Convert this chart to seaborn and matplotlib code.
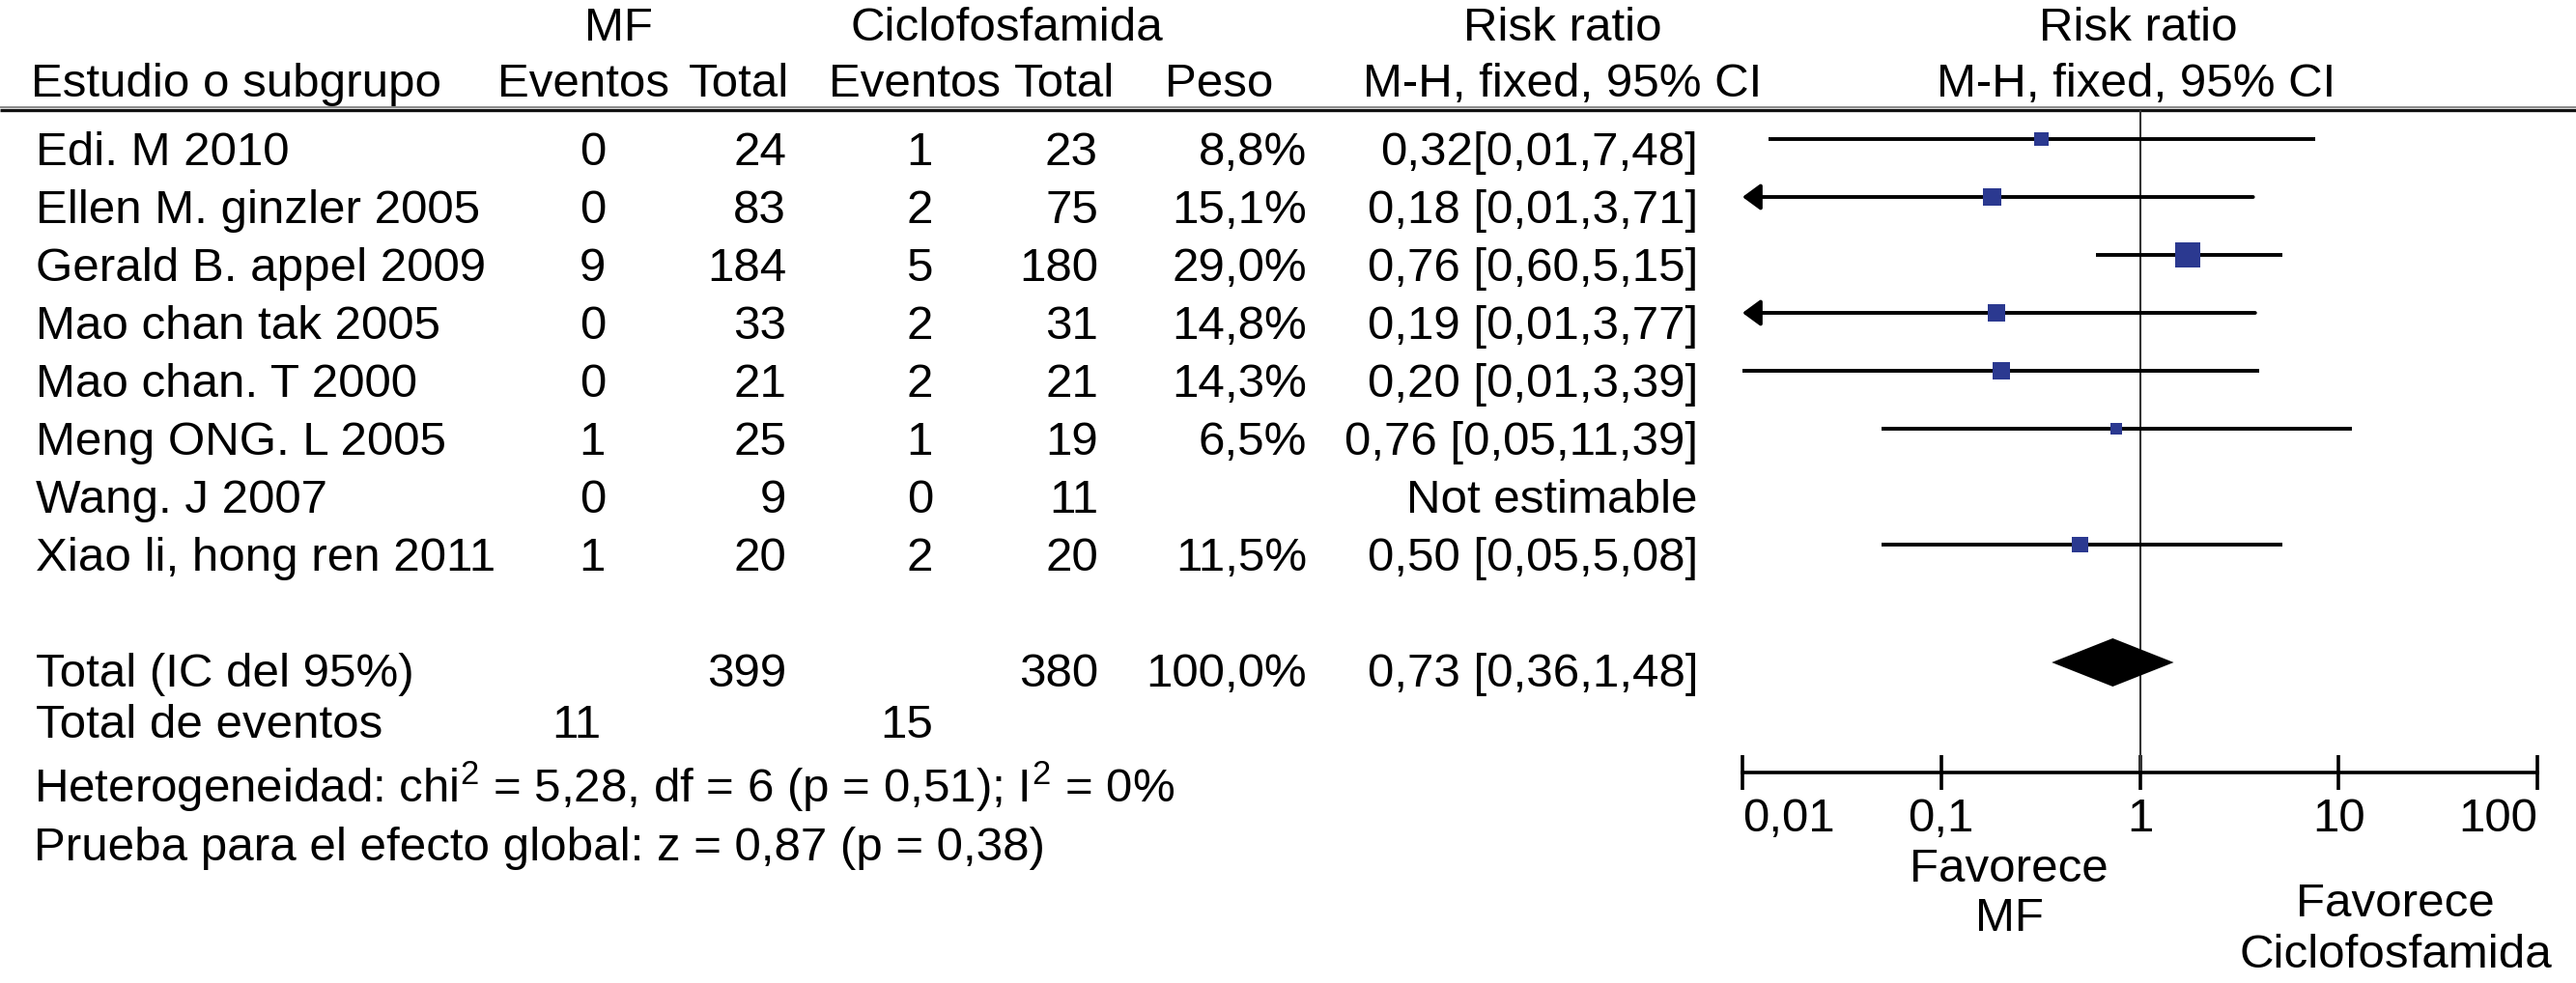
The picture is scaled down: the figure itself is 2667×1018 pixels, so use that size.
import numpy as np
import pandas as pd
import matplotlib
matplotlib.use("Agg")
import matplotlib.pyplot as plt
import seaborn as sns

# Table data (as printed)
studies = ["Edi. M 2010", "Ellen M. ginzler 2005", "Gerald B. appel 2009",
           "Mao chan tak 2005", "Mao chan. T 2000", "Meng ONG. L 2005",
           "Wang. J 2007", "Xiao li, hong ren 2011"]
mf_events = [0, 0, 9, 0, 0, 1, 0, 1]
mf_total = [24, 83, 184, 33, 21, 25, 9, 20]
cy_events = [1, 2, 5, 2, 2, 1, 0, 2]
cy_total = [23, 75, 180, 31, 21, 19, 11, 20]
weight_txt = ["8,8%", "15,1%", "29,0%", "14,8%", "14,3%", "6,5%", "", "11,5%"]
rr_txt = ["0,32[0,01,7,48]", "0,18 [0,01,3,71]", "0,76 [0,60,5,15]",
          "0,19 [0,01,3,77]", "0,20 [0,01,3,39]", "0,76 [0,05,11,39]",
          "Not estimable", "0,50 [0,05,5,08]"]

# Values as drawn in the forest plot
weight = [8.8, 15.1, 29.0, 14.8, 14.3, 6.5, np.nan, 11.5]
rr = [0.32, 0.18, 1.74, 0.19, 0.20, 0.76, np.nan, 0.50]
ci_lo = [0.0135, 0.01, 0.60, 0.01, 0.01, 0.05, np.nan, 0.05]
ci_hi = [7.6, 3.71, 5.2, 3.8, 4.0, 11.6, np.nan, 5.2]
off_scale = [False, True, False, True, False, False, False, False]

total_mf, total_cy = 399, 380
events_mf, events_cy = 11, 15
pooled_lo, pooled_rr, pooled_hi = 0.36, 0.73, 1.48
pooled_txt = "0,73 [0,36,1,48]"

ticks = [0.01, 0.1, 1, 10, 100]
tick_labels = ["0,01", "0,1", "1", "10", "100"]

sns.set_theme(style="white")
plt.rcParams["font.family"] = ["Liberation Sans", "DejaVu Sans"]
plt.rcParams["mathtext.fontset"] = "custom"
plt.rcParams["mathtext.rm"] = "Liberation Sans"
plt.rcParams["mathtext.default"] = "regular"

W, H = 2667, 1018
FS = 35.5
fig = plt.figure(figsize=(W / 100, H / 100), dpi=100)
fig.patch.set_facecolor("white")

# text layer in pixel coordinates
ax = fig.add_axes([0, 0, 1, 1])
ax.set_xlim(0, W)
ax.set_ylim(H, 0)
ax.axis("off")

def txt(x, y, s, ha="left"):
    ax.text(x, y, s, ha=ha, va="baseline", fontsize=FS, color="black")

# headers
txt(640, 42, "MF", "center")
txt(1042, 42, "Ciclofosfamida", "center")
txt(1618, 42, "Risk ratio", "center")
txt(2214, 42, "Risk ratio", "center")
txt(32, 100, "Estudio o subgrupo")
txt(604, 100, "Eventos", "center")
txt(765, 100, "Total", "center")
txt(947, 100, "Eventos", "center")
txt(1102, 100, "Total", "center")
txt(1262, 100, "Peso", "center")
txt(1618, 100, "M-H, fixed, 95% CI", "center")
txt(2212, 100, "M-H, fixed, 95% CI", "center")
ax.hlines(111, 0, W, color="#777777", lw=1.2)
ax.hlines(114, 0, W, color="#111111", lw=2.4)

row_y = [144 + 60 * i for i in range(len(studies))]
for i, y in enumerate(row_y):
    b = y + 27
    txt(37, b, studies[i])
    txt(627, b, str(mf_events[i]), "right")
    txt(814, b, str(mf_total[i]), "right")
    txt(966, b, str(cy_events[i]), "right")
    txt(1137, b, str(cy_total[i]), "right")
    txt(1353, b, weight_txt[i], "right")
    txt(1758, b, rr_txt[i], "right")

total_y = 686
txt(37, total_y + 25, "Total (IC del 95%)")
txt(814, total_y + 25, str(total_mf), "right")
txt(1137, total_y + 25, str(total_cy), "right")
txt(1353, total_y + 25, "100,0%", "right")
txt(1758, total_y + 25, pooled_txt, "right")
txt(37, 764, "Total de eventos")
txt(622, 764, str(events_mf), "right")
txt(966, 764, str(events_cy), "right")
txt(35, 831, r"Heterogeneidad: chi$^2$ = 5,28, df = 6 (p = 0,51); I$^2$ = 0%")
txt(35, 891, "Prueba para el efecto global: z = 0,87 (p = 0,38)")
txt(2080, 913, "Favorece", "center")
txt(2080, 964, "MF", "center")
txt(2480, 949, "Favorece", "center")
txt(2480, 1002, "Ciclofosfamida", "center")

# forest plot layer
x0, x1 = 1804, 2627
fx = fig.add_axes([x0 / W, 0, (x1 - x0) / W, 1])
fx.patch.set_visible(False)
fx.set_xscale("log")
fx.set_xlim(0.01, 100)
fx.set_ylim(H, 0)

df = pd.DataFrame({"y": row_y, "rr": rr, "lo": ci_lo, "hi": ci_hi,
                   "w": weight, "arrow": off_scale}).dropna()

for _, r in df.iterrows():
    if r["arrow"]:
        fx.annotate("", xy=(r["lo"], r["y"]), xytext=(r["hi"], r["y"]),
                    arrowprops=dict(arrowstyle="-|>,head_length=0.45,head_width=0.33",
                                    mutation_scale=25, lw=2.8, color="black",
                                    shrinkA=0, shrinkB=0))
    else:
        fx.hlines(r["y"], r["lo"], r["hi"], color="black", lw=2.8)

fx.vlines(1, 114, 800, color="#333333", lw=1.5, zorder=1)

sns.scatterplot(data=df, x="rr", y="y", size="w", sizes=(80, 350),
                size_norm=(6.5, 29), marker="s", color="#2b3990",
                edgecolor="none", legend=False, ax=fx, zorder=3)

fx.fill([pooled_lo, pooled_rr, pooled_hi, pooled_rr],
        [total_y, total_y - 25, total_y, total_y + 25], color="black", lw=0)

for s in ["left", "right", "top"]:
    fx.spines[s].set_visible(False)
fx.spines["bottom"].set_position(("data", 800))
fx.spines["bottom"].set_linewidth(2.6)
fx.spines["bottom"].set_color("black")
fx.set_xticks(ticks)
fx.set_xticklabels(tick_labels)
fx.xaxis.set_minor_locator(matplotlib.ticker.NullLocator())
fx.tick_params(axis="x", direction="inout", length=26, width=2.6,
               pad=6, labelsize=FS, colors="black", bottom=True)
labs = fx.get_xticklabels()
labs[0].set_ha("left")
labs[-1].set_ha("right")
fx.set_yticks([])
fx.set_xlabel("")
fx.set_ylabel("")

fig.savefig("out.png", dpi=100, facecolor="white")
